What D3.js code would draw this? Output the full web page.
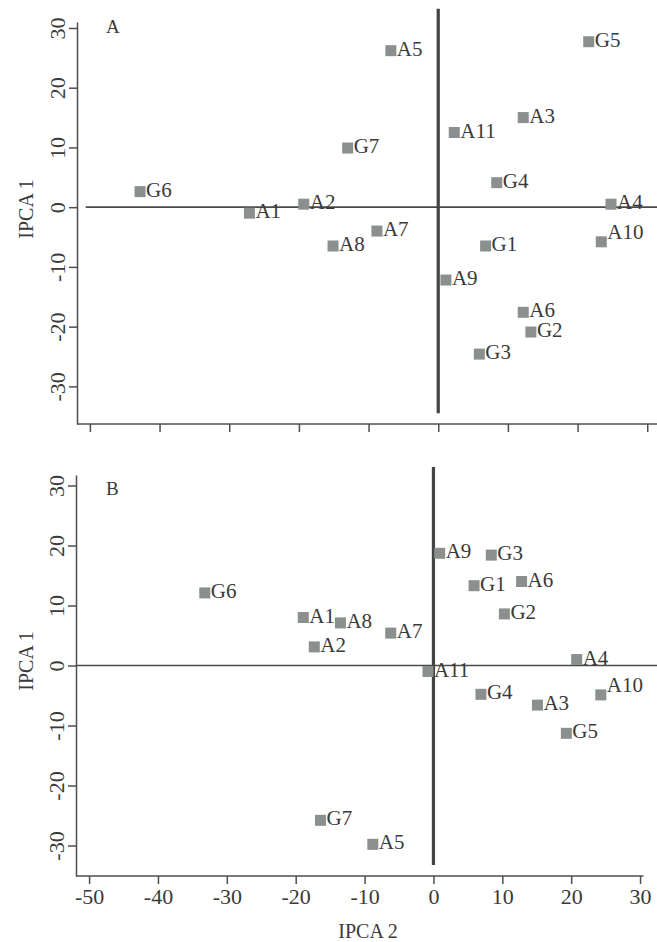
<!DOCTYPE html>
<html>
<head>
<meta charset="utf-8">
<script src="https://cdn.jsdelivr.net/npm/d3@7"></script>
<style>
  body { margin: 0; background: #fff; }
  svg text { fill: #3a3a3a; }
  .axis path, .axis line { stroke: #4e4e4e; stroke-width: 1.5; }
</style>
</head>
<body>
<div id="chart"></div>
<script>
// genotype / environment labels
var labels = ["A1","A2","A3","A4","A5","A6","A7","A8","A9","A10","A11",
              "G1","G2","G3","G4","G5","G6","G7"];

// panel A scores
var ipca2A = [-27.1,-19.3,12.2,24.8,-6.8,12.2,-8.8,-15.1,1.1,23.4,2.3,
              6.8,13.3,5.9,8.4,21.6,-42.8,-13.0];
var ipca1A = [-1.0,0.5,15.0,0.5,26.2,-17.6,-4.0,-6.5,-12.2,-5.8,12.5,
              -6.5,-20.9,-24.6,4.1,27.7,2.6,9.9];

// panel B scores
var ipca2B = [-18.9,-17.3,15.1,20.8,-8.8,12.8,-6.2,-13.5,0.9,24.3,-0.8,
              5.9,10.3,8.4,6.9,19.3,-33.2,-16.4];
var ipca1B = [8.0,3.1,-6.6,1.0,-29.8,14.0,5.4,7.1,18.7,-4.9,-1.0,
              13.3,8.6,18.4,-4.8,-11.3,12.1,-25.8];

var xTicks = [-50,-40,-30,-20,-10,0,10,20,30];
var yTicks = [-30,-20,-10,0,10,20,30];

// labels drawn a bit higher than the rest
var raised = ["A10"];

var FONT = "'Liberation Serif', 'Times New Roman', Times, serif";
var fmt = function(d) { return String(d); };   // plain hyphen minus like the print

var svg = d3.select("#chart").append("svg")
    .attr("width", 657)
    .attr("height", 942)
    .attr("font-family", FONT);

function drawPanel(opt) {
    var x = d3.scaleLinear().domain(opt.xDom).range(opt.xRange);
    var y = d3.scaleLinear().domain(opt.yDom).range(opt.yRange);

    var g = svg.append("g");

    // x axis
    var xa = g.append("g")
        .attr("class", "axis")
        .attr("transform", "translate(0," + opt.yRange[0] + ")")
        .call(d3.axisBottom(x).tickValues(xTicks).tickSize(8).tickSizeOuter(0).tickPadding(4)
              .tickFormat(opt.xLabels ? fmt : ""));
    xa.attr("font-family", FONT);
    xa.select(".domain").attr("d", "M" + opt.xRange[0] + ",0H" + opt.xRange[1]);
    xa.selectAll("text").attr("font-size", 22).attr("fill", "#3a3a3a");

    // y axis
    var ya = g.append("g")
        .attr("class", "axis")
        .attr("transform", "translate(" + opt.xRange[0] + ",0)")
        .call(d3.axisLeft(y).tickValues(yTicks).tickSize(8).tickSizeOuter(0).tickFormat(fmt));
    ya.attr("font-family", FONT);
    ya.selectAll("text")
        .attr("x", null)
        .attr("dy", null)
        .attr("text-anchor", "middle")
        .attr("font-size", 22)
        .attr("fill", "#3a3a3a")
        .attr("transform", "translate(-12,0) rotate(-90)");

    // zero lines
    g.append("line")
        .attr("x1", x(opt.hFrom)).attr("x2", 657)
        .attr("y1", y(0)).attr("y2", y(0))
        .attr("stroke", "#4a4a4a").attr("stroke-width", 1.6);
    g.append("line")
        .attr("x1", x(0)).attr("x2", x(0))
        .attr("y1", y(opt.vTop)).attr("y2", y(opt.vBottom))
        .attr("stroke", "#444").attr("stroke-width", 3.2);

    // panel letter
    g.append("text")
        .attr("x", 106).attr("y", opt.letterY)
        .attr("font-size", 19)
        .text(opt.letter);

    // y title
    g.append("text")
        .attr("transform", "translate(33," + opt.titleY + ") rotate(-90)")
        .attr("text-anchor", "middle")
        .attr("font-size", 20)
        .text("IPCA 1");

    var pts = labels.map(function(d, i) {
        return {name: d, x: opt.xs[i], y: opt.ys[i]};
    });

    g.selectAll("rect.pt")
        .data(pts)
        .enter().append("rect")
        .attr("class", "pt")
        .attr("x", function(d) { return x(d.x) - 5.5; })
        .attr("y", function(d) { return y(d.y) - 5.5; })
        .attr("width", 11)
        .attr("height", 11)
        .attr("fill", "#8b8f8e");

    g.selectAll("text.lbl")
        .data(pts)
        .enter().append("text")
        .attr("class", "lbl")
        .attr("x", function(d) { return x(d.x) + 6; })
        .attr("y", function(d) {
            return y(d.y) + (raised.indexOf(d.name) >= 0 ? -3 : 5);
        })
        .attr("font-size", 21)
        .text(function(d) { return d.name; });
}

drawPanel({
    xDom: [-51.85, 31.4], xRange: [77, 657],
    yDom: [-36.3, 31], yRange: [424, 22],
    xs: ipca2A, ys: ipca1A,
    xLabels: false,
    hFrom: -50.6, vTop: 33.2, vBottom: -34.5,
    letter: "A", letterY: 33, titleY: 209
});

drawPanel({
    xDom: [-51.9, 30.5], xRange: [76, 643.5],
    yDom: [-35.08, 31.75], yRange: [876, 475],
    xs: ipca2B, ys: ipca1B,
    xLabels: true,
    hFrom: -51.9, vTop: 33.1, vBottom: -33.25,
    letter: "B", letterY: 495, titleY: 661
});

svg.append("text")
    .attr("x", 368).attr("y", 938)
    .attr("text-anchor", "middle")
    .attr("font-size", 20)
    .text("IPCA 2");
</script>
</body>
</html>
